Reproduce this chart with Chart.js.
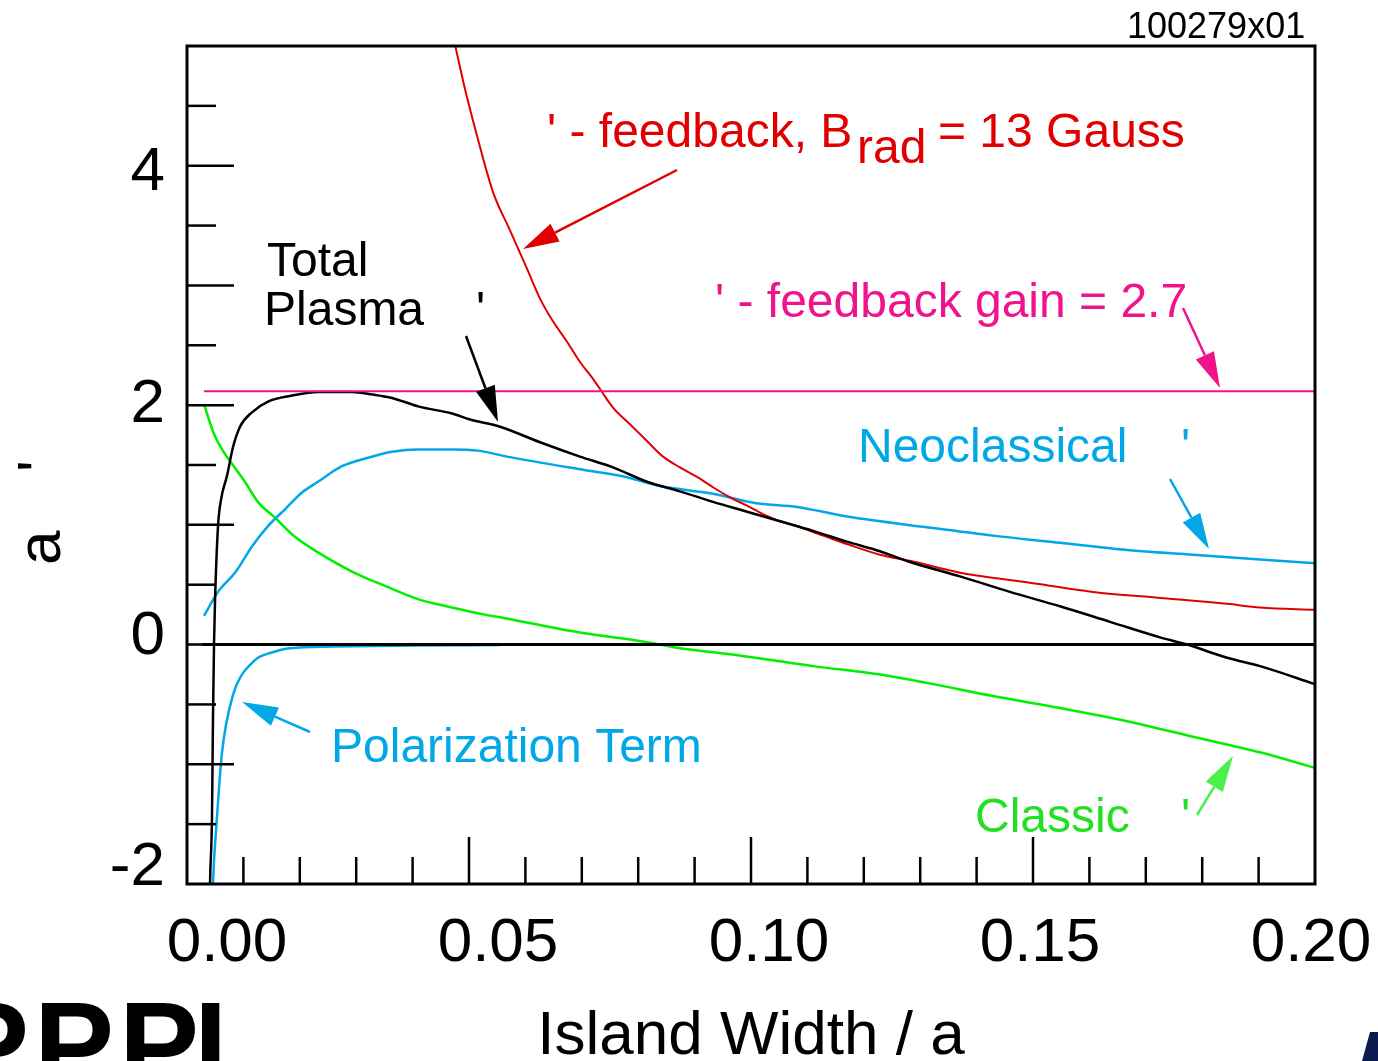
<!DOCTYPE html>
<html>
<head>
<meta charset="utf-8">
<script src="https://cdn.jsdelivr.net/npm/chart.js@4.4.1/dist/chart.umd.min.js"></script>
<style>
html, body { margin: 0; padding: 0; background: #fff; }
#wrap { width: 1378px; height: 1061px; position: relative; }
</style>
</head>
<body>
<div id="wrap"><canvas id="grafica"></canvas></div>
<script>
// island width / a  vs  a*Delta'
const totalX = [0.0039, 0.00408, 0.00443, 0.00461, 0.00479, 0.00496, 0.0055, 0.00603, 0.00709, 0.00816, 0.0094, 0.01152, 0.01436, 0.01862, 0.02323, 0.02926, 0.0328, 0.03635, 0.04096, 0.04699, 0.05018, 0.0555, 0.06259, 0.06968, 0.07553, 0.08156, 0.08741, 0.0934, 0.0993, 0.10514, 0.111, 0.117, 0.12287, 0.12819, 0.13706, 0.14592, 0.15479, 0.16365, 0.17252, 0.1773, 0.1844, 0.19025, 0.2];
const totalY = [-2.6, -2.0, -1.44, -0.60, 0.0, 0.35, 0.99, 1.21, 1.41, 1.65, 1.82, 1.94, 2.03, 2.08, 2.11, 2.11, 2.09, 2.06, 1.99, 1.93, 1.88, 1.82, 1.69, 1.57, 1.48, 1.36, 1.28, 1.19, 1.11, 1.03, 0.95, 0.86, 0.78, 0.69, 0.57, 0.44, 0.32, 0.19, 0.06, 0.0, -0.11, -0.18, -0.33];

const neoX = [0.00301, 0.0055, 0.00851, 0.01152, 0.01436, 0.01738, 0.02039, 0.02323, 0.02748, 0.03209, 0.03635, 0.04096, 0.04699, 0.0516, 0.05674, 0.07021, 0.07677, 0.0844, 0.09326, 0.10106, 0.10816, 0.11702, 0.13121, 0.14291, 0.15479, 0.16667, 0.17837, 0.19025, 0.2];
const neoY = [0.24, 0.44, 0.60, 0.82, 0.99, 1.13, 1.27, 1.36, 1.49, 1.56, 1.61, 1.63, 1.63, 1.62, 1.57, 1.46, 1.41, 1.32, 1.26, 1.18, 1.15, 1.07, 0.98, 0.91, 0.85, 0.79, 0.75, 0.71, 0.68];

const feedbackX = [0.0461, 0.04752, 0.04929, 0.05142, 0.05426, 0.05727, 0.06028, 0.06259, 0.06489, 0.06738, 0.06968, 0.07199, 0.07358, 0.07553, 0.07855, 0.08156, 0.0844, 0.08741, 0.09043, 0.0934, 0.09628, 0.0993, 0.10213, 0.10514, 0.10816, 0.111, 0.11401, 0.117, 0.12287, 0.12819, 0.13706, 0.14894, 0.16064, 0.17252, 0.1844, 0.19025, 0.2];
const feedbackY = [5.30, 5.01, 4.64, 4.25, 3.78, 3.46, 3.14, 2.89, 2.70, 2.53, 2.36, 2.22, 2.11, 1.98, 1.84, 1.70, 1.57, 1.48, 1.40, 1.31, 1.23, 1.16, 1.09, 1.03, 0.99, 0.94, 0.89, 0.84, 0.75, 0.70, 0.60, 0.52, 0.44, 0.39, 0.34, 0.31, 0.29];

const classicX = [0.00301, 0.00461, 0.00621, 0.00798, 0.01028, 0.01259, 0.0156, 0.01915, 0.02323, 0.02926, 0.03511, 0.04096, 0.04699, 0.05284, 0.05638, 0.06968, 0.08156, 0.08741, 0.09628, 0.10514, 0.111, 0.12287, 0.13121, 0.14291, 0.15479, 0.16667, 0.17837, 0.19025, 0.2];
const classicY = [2.01, 1.78, 1.63, 1.51, 1.36, 1.19, 1.06, 0.90, 0.77, 0.61, 0.49, 0.38, 0.31, 0.25, 0.22, 0.10, 0.02, -0.03, -0.08, -0.14, -0.18, -0.25, -0.32, -0.43, -0.53, -0.64, -0.77, -0.90, -1.03];

const polX = [0.00443, 0.00461, 0.00532, 0.00621, 0.00816, 0.00975, 0.01117, 0.01259, 0.01472, 0.01826, 0.02589, 0.04078, 0.0555];
const polY = [-2.3, -1.99, -1.44, -0.90, -0.42, -0.25, -0.17, -0.11, -0.07, -0.03, -0.017, -0.008, -0.004];

const zeroX = [0.0027, 0.2];
const zeroY = [0, 0];
const gainX = [0.003, 0.2];
const gainY = [2.117, 2.117];

const xTickVals = [0, 0.05, 0.10, 0.15, 0.20];
const xTickLabels = ['0.00', '0.05', '0.10', '0.15', '0.20'];
const yTickVals = [-2, 0, 2, 4];
const yTickLabels = ['-2', '0', '2', '4'];

const FONT = '"Liberation Sans", Arial, Helvetica, sans-serif';
const RED = '#e00000', PINK = '#f0148c', BLUE = '#00a8e6', GREEN = '#00f000';

const pts = (xs, ys) => xs.map((x, i) => ({ x: x, y: ys[i] }));
const line = (label, xs, ys, color, width) => ({
    label: label,
    data: pts(xs, ys),
    borderColor: color,
    borderWidth: width,
    pointRadius: 0,
    fill: false,
    cubicInterpolationMode: 'monotone',
    xAxisID: 'x',
    yAxisID: 'y'
});

function arrow(ctx, x1, y1, x2, y2, color) {
    const ang = Math.atan2(y2 - y1, x2 - x1);
    const hl = 36, hw = 10;
    const bx = x2 - hl * Math.cos(ang), by = y2 - hl * Math.sin(ang);
    ctx.strokeStyle = color; ctx.fillStyle = color; ctx.lineWidth = 2.5;
    ctx.beginPath(); ctx.moveTo(x1, y1); ctx.lineTo(bx, by); ctx.stroke();
    ctx.beginPath();
    ctx.moveTo(x2, y2);
    ctx.lineTo(bx + hw * Math.sin(ang), by - hw * Math.cos(ang));
    ctx.lineTo(bx - hw * Math.sin(ang), by + hw * Math.cos(ang));
    ctx.closePath(); ctx.fill();
}

function txt(ctx, s, x, y, color, size, weight) {
    ctx.font = (weight || '') + ' ' + size + 'px ' + FONT;
    ctx.fillStyle = color;
    ctx.textAlign = 'left';
    ctx.textBaseline = 'alphabetic';
    ctx.fillText(s, x, y);
}

// keep the plot box where it is in the picture
function fixBox(s, w, h) {
    if (w) s.width = w;
    if (h) s.height = h;
    s.paddingTop = 0; s.paddingBottom = 0; s.paddingLeft = 0; s.paddingRight = 0;
}

const decor = {
    id: 'decor',
    afterDraw(chart) {
        const { ctx, chartArea: a, scales } = chart;
        const x = scales.x, y = scales.y;
        ctx.save();

        // inner tick marks
        ctx.strokeStyle = '#000';
        ctx.lineWidth = 2.5;
        for (let i = 1; i < 20; i++) {
            const px = x.getPixelForValue(i / 100);
            const len = i % 5 === 0 ? 47 : 27;
            ctx.beginPath(); ctx.moveTo(px, a.bottom); ctx.lineTo(px, a.bottom - len); ctx.stroke();
        }
        for (let i = -3; i < 10; i++) {
            const py = y.getPixelForValue(i / 2);
            const len = i % 2 === 0 ? 47 : 29;
            ctx.beginPath(); ctx.moveTo(a.left, py); ctx.lineTo(a.left + len, py); ctx.stroke();
        }
        // frame
        ctx.lineWidth = 3;
        ctx.strokeRect(a.left, a.top, a.right - a.left, a.bottom - a.top);

        // labels
        txt(ctx, '100279x01', 1127, 38, '#000', 36);

        txt(ctx, "' - feedback, B", 547, 147, RED, 48);
        txt(ctx, 'rad', 857, 163, RED, 48);
        txt(ctx, '= 13 Gauss', 938, 147, RED, 48);
        arrow(ctx, 677, 170, 523, 249, RED);

        txt(ctx, 'Total', 267, 276, '#000', 48);
        txt(ctx, 'Plasma', 264, 325, '#000', 48);
        txt(ctx, "'", 476, 325, '#000', 48);
        arrow(ctx, 466, 336, 498, 422, '#000');

        txt(ctx, "' - feedback gain = 2.7", 715, 317, PINK, 48);
        arrow(ctx, 1183, 308, 1220, 388, PINK);

        txt(ctx, 'Neoclassical', 858, 462, BLUE, 48);
        txt(ctx, "'", 1181, 462, BLUE, 48);
        arrow(ctx, 1170, 479, 1209, 549, BLUE);

        txt(ctx, 'Polarization Term', 331, 762, BLUE, 48);
        arrow(ctx, 310, 732, 242, 702, BLUE);

        txt(ctx, 'Classic', 975, 832, '#22e022', 48);
        txt(ctx, "'", 1181, 832, '#22e022', 48);
        arrow(ctx, 1197, 815, 1233, 756, '#4cf04c');

        // y title, rotated
        ctx.save();
        ctx.translate(60, 565);
        ctx.rotate(-Math.PI / 2);
        txt(ctx, 'a', 0, 0, '#000', 62);
        txt(ctx, "'", 93, 0, '#000', 62);
        ctx.restore();

        // logo pieces at the page edges
        txt(ctx, 'P', -51, 1086, '#000', 120, 'bold');
        txt(ctx, 'P', 34, 1086, '#000', 120, 'bold');
        txt(ctx, 'P', 119, 1086, '#000', 120, 'bold');
        txt(ctx, 'L', 194, 1086, '#000', 120, 'bold');
        ctx.fillStyle = '#0d1a4f';
        ctx.beginPath();
        ctx.moveTo(1370, 1032); ctx.lineTo(1378, 1032); ctx.lineTo(1378, 1061); ctx.lineTo(1362, 1061);
        ctx.closePath(); ctx.fill();

        ctx.restore();
    }
};

const graph = document.querySelector('#grafica');

const data = {
    datasets: [
        line('Zero', zeroX, zeroY, '#000', 3),
        line('Feedback gain = 2.7', gainX, gainY, PINK, 2),
        line('Total Plasma', totalX, totalY, '#000', 2.5),
        line('Feedback, Brad = 13 Gauss', feedbackX, feedbackY, RED, 2),
        line('Neoclassical', neoX, neoY, BLUE, 2.5),
        line('Classic', classicX, classicY, GREEN, 2.5),
        line('Polarization Term', polX, polY, BLUE, 2.5)
    ]
};

const config = {
    type: 'line',
    data: data,
    options: {
        responsive: true,
        maintainAspectRatio: false,
        animation: false,
        devicePixelRatio: 1,
        layout: { padding: { top: 46, right: 63, left: 0, bottom: 0 } },
        plugins: { legend: { display: false }, tooltip: { enabled: false } },
        scales: {
            x: { type: 'linear', display: false, min: 0, max: 0.2 },
            y: { type: 'linear', display: false, min: -2, max: 5 },
            xl: {
                type: 'linear', position: 'bottom', min: -0.00738, max: 0.20074,
                afterBuildTicks: s => { s.ticks = xTickVals.map(v => ({ value: v })); },
                afterFit: s => fixBox(s, 0, 177),
                grid: { display: false, drawTicks: false },
                border: { display: false },
                ticks: {
                    color: '#000', padding: 23, maxRotation: 0, autoSkip: false,
                    font: { family: FONT, size: 62 },
                    callback: (v, i) => xTickLabels[i]
                },
                title: {
                    display: true, text: 'Island Width / a', color: '#000',
                    font: { family: FONT, size: 62, lineHeight: 1 },
                    padding: { top: 0, bottom: -7 }
                }
            },
            yl: {
                type: 'linear', position: 'left', min: -2.135, max: 5.096,
                afterBuildTicks: s => { s.ticks = yTickVals.map(v => ({ value: v })); },
                afterFit: s => fixBox(s, 187, 0),
                grid: { display: false, drawTicks: false },
                border: { display: false },
                ticks: {
                    color: '#000', padding: 22, autoSkip: false,
                    font: { family: FONT, size: 62 },
                    callback: (v, i) => yTickLabels[i]
                }
            }
        }
    },
    plugins: [decor]
};

new Chart(graph, config);
</script>
</body>
</html>
